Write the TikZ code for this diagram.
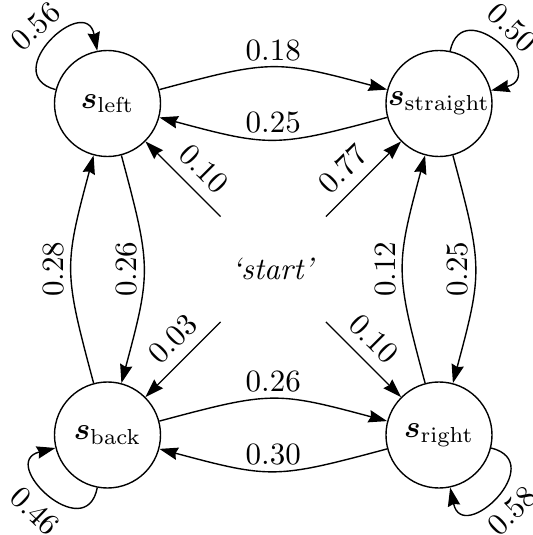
\documentclass[tikz,border=0pt]{standalone}
\usepackage{amsmath,bm}
\usetikzlibrary{arrows.meta}
\begin{document}
\begin{tikzpicture}[x=0.3226pt,y=0.3226pt,
  state/.style={circle,draw,line width=0.45pt,minimum size=34.2pt,inner sep=0pt},
  startnode/.style={circle,minimum size=47.7pt,inner sep=0pt},
  trans/.style={-{Stealth[length=6pt,width=4pt,inset=0.6pt]},line width=0.45pt},
  bendy/.style={bend left=15,looseness=1.3},
  hlbl/.style={midway,above,inner sep=1.8pt},
  vlbl/.style={midway,rotate=90,anchor=south,inner sep=2pt},
  dlbl/.style={pos=0.43,sloped,above},
  llbl/.style={midway,sloped}]
\useasboundingbox (0,0) rectangle (533,535);
\node[state] (L) at (107.5,431.5) {$\bm{s}_{\mathrm{left}}$};
\node[state] (S) at (439,431.5) {$\bm{s}_{\mathrm{straight}}$};
\node[state] (B) at (107.5,100) {$\bm{s}_{\mathrm{back}}$};
\node[state] (R) at (439,100) {$\bm{s}_{\mathrm{right}}$};
\node[startnode] (O) at (273.25,265.75) {\textit{`start'}};
% horizontal pairs
\draw[trans] (L) to[bendy] node[hlbl] {0.18} (S);
\draw[trans] (S) to[bendy] node[hlbl] {0.25} (L);
\draw[trans] (B) to[bendy] node[hlbl] {0.26} (R);
\draw[trans] (R) to[bendy] node[hlbl] {0.30} (B);
% vertical pairs
\draw[trans] (B) to[bendy] node[vlbl] {0.28} (L);
\draw[trans] (L) to[bendy] node[vlbl] {0.26} (B);
\draw[trans] (R) to[bendy] node[vlbl] {0.12} (S);
\draw[trans] (S) to[bendy] node[vlbl] {0.25} (R);
% from start
\draw[trans] (O) -- node[dlbl] {0.10} (L);
\draw[trans] (O) -- node[dlbl] {0.77} (S);
\draw[trans] (O) -- node[dlbl] {0.03} (B);
\draw[trans] (O) -- node[dlbl] {0.10} (R);
% loops
\draw[trans] (L.165) .. controls +(165:60) and +(101:60) .. node[llbl,above] {0.56} (L.101);
\draw[trans] (S.78) .. controls +(78:60) and +(14:60) .. node[llbl,above] {0.50} (S.14);
\draw[trans] (B.259) .. controls +(259:60) and +(194:60) .. node[llbl,below] {0.46} (B.194);
\draw[trans] (R.-14) .. controls +(-14:60) and +(-78:60) .. node[llbl,below] {0.58} (R.-78);
\end{tikzpicture}
\end{document}
